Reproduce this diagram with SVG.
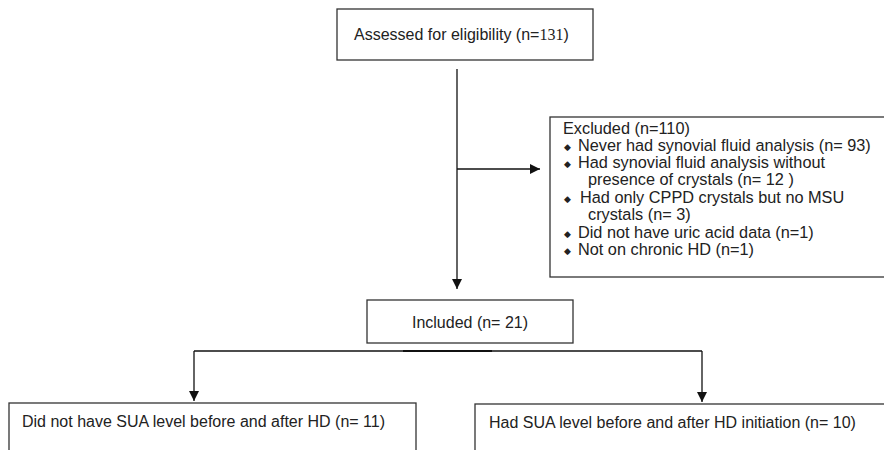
<svg xmlns="http://www.w3.org/2000/svg" width="884" height="450" viewBox="0 0 884 450">
<defs>
<marker id="ah" markerWidth="10" markerHeight="10" refX="10" refY="5" orient="auto" markerUnits="userSpaceOnUse">
<path d="M0,0 L10,5 L0,10 Z" fill="#111"/>
</marker>
<style>
.box{fill:#fff;stroke:#333;stroke-width:1.3}
.t{font-family:"Liberation Sans",Arial,sans-serif;font-size:16px;fill:#222}
.x{font-size:16.3px}
.s{font-family:"Liberation Serif","Times New Roman",serif}
.ln{fill:none;stroke:#111;stroke-width:1.3}
.b{font-size:9px}
</style>
</defs>
<rect width="884" height="450" fill="#fff"/>
<g id="connectors">
<path class="ln" d="M457,69 V289" marker-end="url(#ah)"/>
<path class="ln" d="M457,169 H540" marker-end="url(#ah)"/>
<path class="ln" d="M194,351 H702"/>
<path class="ln" d="M194,351 V401" marker-end="url(#ah)"/>
<path class="ln" d="M702,351 V402" marker-end="url(#ah)"/>
<path d="M403,351 H492" stroke="#111" stroke-width="2.2"/>
</g>
<g id="assessed">
<rect class="box" x="337" y="9" width="256" height="51"/>
<text class="t" x="354" y="40" font-size="14.7">Assessed for eligibility (n=<tspan class="s" font-size="16">131</tspan>)</text>
</g>
<g id="excluded">
<rect class="box" x="550" y="117" width="345" height="160"/>
<g class="t x">
<text x="563" y="134">Excluded (n=110)</text>
<text x="564" y="150" class="b">◆</text><text x="578" y="151">Never had synovial fluid analysis (n= 93)</text>
<text x="564" y="167" class="b">◆</text><text x="578" y="168">Had synovial fluid analysis without</text>
<text x="588" y="185">presence of crystals (n= 12 )</text>
<text x="564" y="202" class="b">◆</text><text x="580" y="203">Had only CPPD crystals but no MSU</text>
<text x="588" y="220">crystals (n= 3)</text>
<text x="564" y="237" class="b">◆</text><text x="578" y="238">Did not have uric acid data (n=1)</text>
<text x="564" y="254" class="b">◆</text><text x="578" y="255">Not on chronic HD (n=1)</text>
</g>
</g>
<g id="included">
<rect class="box" x="367" y="300" width="206" height="43"/>
<text class="t" x="470" y="328" text-anchor="middle">Included (n= 21)</text>
</g>
<g id="no-sua">
<rect class="box" x="9" y="403" width="407" height="60"/>
<text class="t" x="22" y="427" font-size="15.4">Did not have SUA level before and after HD (n= 11)</text>
</g>
<g id="had-sua">
<rect class="box" x="475" y="404" width="420" height="60"/>
<text class="t" x="489" y="428" font-size="16.2">Had SUA level before and after HD initiation (n= 10)</text>
</g>
</svg>
